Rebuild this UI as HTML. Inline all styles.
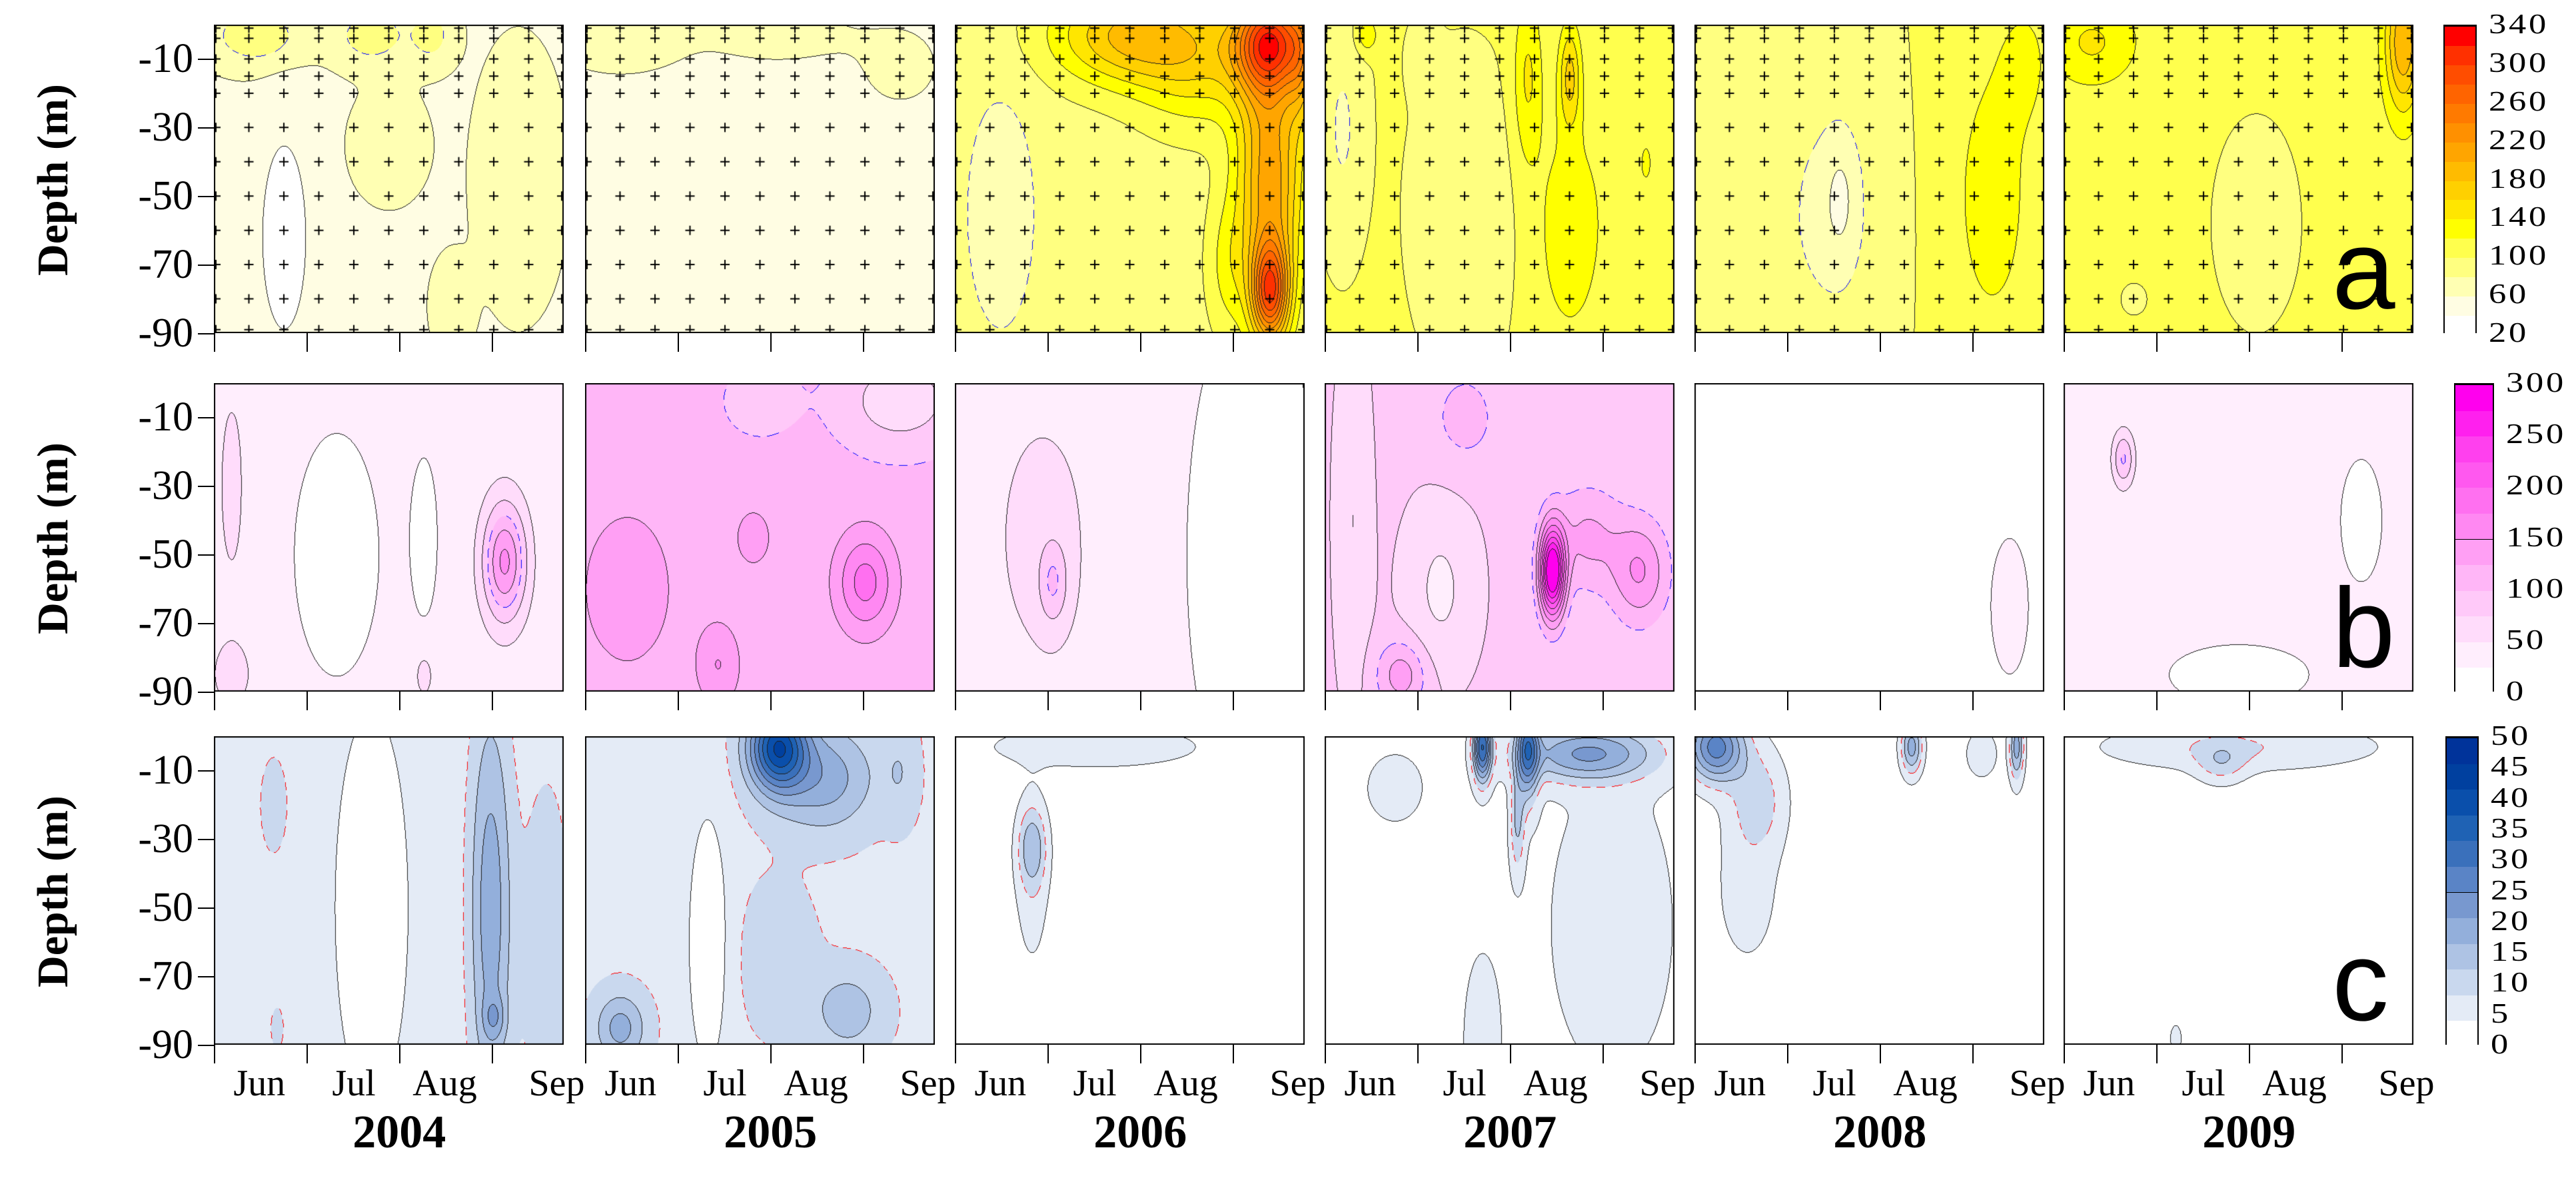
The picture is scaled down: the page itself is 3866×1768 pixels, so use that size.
<!DOCTYPE html>
<html><head><meta charset="utf-8">
<style>
html,body{margin:0;padding:0;background:#fff;}
#root{position:relative;width:3866px;height:1768px;overflow:hidden;background:#fff;font-family:"Liberation Serif",serif;}
canvas{position:absolute;}
.lbl{position:absolute;white-space:nowrap;color:#000;}
.ytick{font-size:62px;text-align:right;width:150px;line-height:62px;}
.mon{font-size:56px;line-height:56px;transform:translateX(-50%);}
.year{font-size:70px;font-weight:bold;line-height:70px;transform:translateX(-50%);}
.cbl{font-family:"Liberation Serif",serif;font-size:42px;line-height:42px;letter-spacing:3px;transform:scaleX(1.25);transform-origin:left center;}
.tag{font-family:"Liberation Sans",sans-serif;font-size:170px;line-height:170px;}
</style></head>
<body>
<div id="root">
<div class="lbl" style="left:-90px;top:232px;font-size:66px;font-weight:bold;transform:rotate(-90deg);width:340px;text-align:center;">Depth (m)</div>
<div class="lbl" style="left:-90px;top:770px;font-size:66px;font-weight:bold;transform:rotate(-90deg);width:340px;text-align:center;">Depth (m)</div>
<div class="lbl" style="left:-90px;top:1300px;font-size:66px;font-weight:bold;transform:rotate(-90deg);width:340px;text-align:center;">Depth (m)</div>
</div>
<script>
const years=['2004','2005','2006','2007','2008','2009'];
const months=['Jun','Jul','Aug','Sep'];
const depthTicks=[-10,-30,-50,-70,-90];
const levelsA=[20,40,60,80,100,120,140,160,180,200,220,240,260,280,300,320,340];
const levelsB=[0,25,50,75,100,125,150,175,200,225,250,275,300];
const levelsC=[0,5,10,15,20,25,30,35,40,45,50,55];
const colorsA=['#ffffff','#fffde3','#ffffb3','#ffff80','#ffff4d','#ffff00','#ffe600','#ffd000','#ffbb00','#ffa500','#ff9000','#ff7a00','#ff6400','#ff4d00','#ff3000','#ff0000'];
const colorsB=['#ffffff','#ffeefd','#ffdcfb','#ffc9f9','#ffb6f7','#ff9ff4','#ff88f2','#ff70f0','#ff58ef','#ff40ee','#ff20ee','#ff00ee'];
const colorsC=['#ffffff','#e4ebf6','#c9d8ee','#aec3e4','#93afdb','#7898cf','#5a84c6','#3a70bb','#1f62b4','#0a4fab','#00409f','#00339a'];
const cbLabelsA=['340','300','260','220','180','140','100','60','20'];
const cbLabelsB=['300','250','200','150','100','50','0'];
const cbLabelsC=['50','45','40','35','30','25','20','15','10','5','0'];
const baseA=[58,48,92,102,100,108];
const baseB=[35,110,30,80,12,32];
const baseC=[7,9,2,3,2,2];
// blobs: [t(0-1), depth(m), amplitude, sigma-t, sigma-depth]
const blobsA=[
 [[0.2,62,-40,0.07,30],[0.12,3,40,0.12,8],[0.45,3,35,0.1,8],[0.62,3,30,0.06,8],[0.87,45,18,0.1,30],[0.68,82,15,0.05,12],[0.5,35,10,0.1,15]],
 [[0.1,5,28,0.2,10],[0.55,3,25,0.2,8],[0.9,12,18,0.15,15]],
 [[0.13,55,-30,0.1,35],[0.5,3,90,0.22,14],[0.9,5,180,0.1,14],[0.9,78,160,0.05,14],[0.9,45,120,0.09,40],[0.7,12,50,0.18,18],[0.78,70,30,0.06,20],[0.99,10,60,0.04,20]],
 [[0.05,30,-25,0.06,30],[0.4,55,-22,0.12,35],[0.28,10,-15,0.04,10],[0.58,15,40,0.04,25],[0.7,15,60,0.03,15],[0.7,60,30,0.1,35],[0.92,40,18,0.1,40],[0.12,3,35,0.03,5]],
 [[0.05,30,-18,0.05,12],[0.38,55,-28,0.14,35],[0.42,50,-20,0.05,20],[0.85,50,30,0.12,45],[0.95,10,20,0.08,20]],
 [[0.08,5,35,0.12,12],[0.55,58,-22,0.13,32],[0.97,5,90,0.05,20],[0.2,80,-10,0.08,10]]
];
const blobsB=[
 [[0.35,50,-28,0.12,35],[0.83,52,120,0.06,17],[0.05,30,20,0.05,40],[0.6,45,-18,0.05,30],[0.6,85,25,0.03,8],[0.05,85,25,0.06,10]],
 [[0.12,60,30,0.14,25],[0.48,45,25,0.06,10],[0.38,82,40,0.06,12],[0.8,58,75,0.08,14],[0.9,5,-50,0.18,15],[0.5,5,-30,0.1,10]],
 [[0.25,45,28,0.18,50],[0.28,58,50,0.04,12],[0.85,50,-25,0.15,60]],
 [[0.65,55,230,0.035,13],[0.75,45,50,0.1,15],[0.9,55,70,0.08,15],[0.22,85,60,0.07,10],[0.4,10,30,0.1,15],[0.33,60,-35,0.1,25],[0.08,40,-30,0.05,50]],
 [[0.9,65,20,0.08,30],[0.05,50,5,0.05,10]],
 [[0.17,22,70,0.03,8],[0.5,85,-24,0.18,8],[0.85,40,-10,0.1,30]]
];
const blobsC=[
 [[0.45,50,-5,0.11,60],[0.17,20,7,0.04,15],[0.79,50,16,0.06,60],[0.8,82,8,0.03,6],[0.95,60,7,0.07,50],[0.05,80,2,0.04,20],[0.18,85,6,0.02,7]],
 [[0.35,60,-9,0.06,40],[0.55,3,38,0.08,12],[0.68,12,14,0.14,15],[0.9,10,5,0.05,15],[0.1,85,13,0.07,10],[0.75,80,9,0.1,12],[0.55,65,5,0.1,20]],
 [[0.22,32,14,0.04,12],[0.4,3,5,0.4,8],[0.22,45,5,0.05,25]],
 [[0.45,3,35,0.025,10],[0.58,3,28,0.03,15],[0.75,5,22,0.2,8],[0.55,25,12,0.02,15],[0.82,55,5,0.18,45],[0.45,90,6,0.05,25],[0.2,15,5,0.08,10]],
 [[0.06,3,30,0.08,10],[0.18,18,10,0.08,15],[0.15,45,5,0.1,25],[0.62,3,20,0.03,8],[0.92,3,20,0.02,10],[0.82,5,6,0.05,8]],
 [[0.5,3,8,0.4,7],[0.45,8,8,0.07,6],[0.32,88,5,0.02,5]]
];
const rows=[
 {levels:levelsA,colors:colorsA,base:baseA,blobs:blobsA,dashLevel:80,dashColor:[0,0,255],top:37,cb:{x:3667,w:50,labels:cbLabelsA},tag:'a',crosses:true},
 {levels:levelsB,colors:colorsB,base:baseB,blobs:blobsB,dashLevel:100,dashColor:[0,0,255],top:575,cb:{x:3683,w:60,labels:cbLabelsB},tag:'b'},
 {levels:levelsC,colors:colorsC,base:baseC,blobs:blobsC,dashLevel:10,dashColor:[255,0,0],top:1105,cb:{x:3670,w:50,labels:cbLabelsC},tag:'c'}
];
const panelX=[321,878,1433,1988,2543,3097];
const PW=525, PH=463;
const root=document.getElementById('root');
function hex(c){return [parseInt(c.substr(1,2),16),parseInt(c.substr(3,2),16),parseInt(c.substr(5,2),16)];}
function yScale(d){return d/90*PH;}
function xScale(t){return t*PW;}
function levelIndex(v,levels){let i=0;while(i<levels.length-2&&v>=levels[i+1])i++;return i;}

rows.forEach((row,ri)=>{
 const cols=row.colors.map(hex);
 years.forEach((yr,yi)=>{
  const cv=document.createElement('canvas');
  
  
  cv.width=PW;cv.height=PH;
  cv.style.left=panelX[yi]+'px';cv.style.top=row.top+'px';
  root.appendChild(cv);
  const ctx=cv.getContext('2d');
  const img=ctx.createImageData(PW,PH);
  const idx=new Int16Array(PW*PH);
  const bl=row.blobs[yi];
  for(let y=0;y<PH;y++){const d=y/PH*90;for(let x=0;x<PW;x++){const t=x/PW;let v=row.base[yi];
   for(const b of bl){const dx=(t-b[0])/b[3],dd=(d-b[1])/b[4];v+=b[2]*Math.exp(-dx*dx-dd*dd);}
   idx[y*PW+x]=levelIndex(v,row.levels);}}
  const dashI=row.levels.indexOf(row.dashLevel);
  for(let y=0;y<PH;y++)for(let x=0;x<PW;x++){
   const k=y*PW+x,i=idx[k];let c=cols[Math.min(i,cols.length-1)];
   if(x>0&&y>0&&x<PW-1&&y<PH-1){
     const mx=Math.max(idx[k+1],idx[k+PW],idx[k-1],idx[k-PW]);
     if(mx>i){
       if(mx===dashI){ if(((x+y)%22)<13) c=row.dashColor; }
       else c=[30,30,30];
     }
   }
   const o=k*4;img.data[o]=c[0];img.data[o+1]=c[1];img.data[o+2]=c[2];img.data[o+3]=255;}
  ctx.putImageData(img,0,0);
  ctx.strokeStyle='#000';ctx.lineWidth=2;
  ctx.beginPath();ctx.moveTo(1,0);ctx.lineTo(1,PH);ctx.moveTo(PW-1,0);ctx.lineTo(PW-1,PH);
  ctx.moveTo(0,1);ctx.lineTo(PW,1);ctx.moveTo(0,PH-1);ctx.lineTo(PW,PH-1);ctx.stroke();
  if(row.crosses){
   const cd=[1,4,10,15,20,30,40,50,60,70,80,89];
   ctx.lineWidth=2;ctx.beginPath();
   for(let j=0;j<11;j++){const x=xScale(j/10)+(j===0?3:0)-(j===10?3:0);
    for(const d of cd){const y=yScale(d);ctx.moveTo(x-7,y);ctx.lineTo(x+7,y);ctx.moveTo(x,y-7);ctx.lineTo(x,y+7);}}
   ctx.stroke();
  }
  [0,0.265,0.53,0.795].forEach(f=>{
   const tk=document.createElement('div');
   
   
   tk.style.cssText='position:absolute;width:2px;height:28px;background:#000;left:'+(panelX[yi]+xScale(f))+'px;top:'+(row.top+PH)+'px;';
   root.appendChild(tk);
  });
 });
 depthTicks.forEach(dv=>{
  const y=row.top+yScale(-dv);
  const t=document.createElement('div');
  t.className='lbl ytick';
  
  
  t.textContent=dv;
  t.style.left='140px';t.style.top=(y-31)+'px';
  root.appendChild(t);
  const m=document.createElement('div');
  
  
  m.style.cssText='position:absolute;height:2px;width:24px;background:#000;left:297px;top:'+y+'px;';
  root.appendChild(m);
 });
 const n=row.colors.length, cbH=PH;
 const cb=document.createElement('div');
 
 
 cb.style.cssText='position:absolute;left:'+row.cb.x+'px;top:'+row.top+'px;width:'+row.cb.w+'px;height:'+cbH+'px;border:2px solid #000;box-sizing:border-box;';
 for(let i=0;i<n;i++){const s=document.createElement('div');
  
  
  s.style.cssText='position:absolute;left:0;right:0;height:'+(cbH/n)+'px;top:'+(cbH-(i+1)*cbH/n)+'px;background:'+row.colors[i]+';border-top:1px solid #000;';
  cb.appendChild(s);}
 root.appendChild(cb);
 const labs=row.cb.labels;
 labs.forEach((lb,i)=>{const e=document.createElement('div');
  e.className='lbl cbl';
  
  
  e.textContent=lb;
  e.style.left=(row.cb.x+row.cb.w+18)+'px';
  e.style.top=(row.top+i*cbH/(labs.length-1)-21)+'px';
  root.appendChild(e);});
 const tg=document.createElement('div');
 tg.className='lbl tag';
 
 
 tg.textContent=row.tag;
 tg.style.left='3500px';tg.style.top=(row.top+PH-180)+'px';
 root.appendChild(tg);
});
years.forEach((yr,yi)=>{
 const mx=[0.13,0.4,0.66,0.98];
 months.forEach((m,mi)=>{const e=document.createElement('div');
  e.className='lbl mon';
  
  
  e.textContent=m;
  e.style.left=(panelX[yi]+mx[mi]*PW)+'px';e.style.top='1598px';
  root.appendChild(e);});
 const y=document.createElement('div');
 y.className='lbl year';
 
 
 y.textContent=yr;
 y.style.left=(panelX[yi]+0.53*PW)+'px';y.style.top='1665px';
 root.appendChild(y);
});
</script>
</body></html>
